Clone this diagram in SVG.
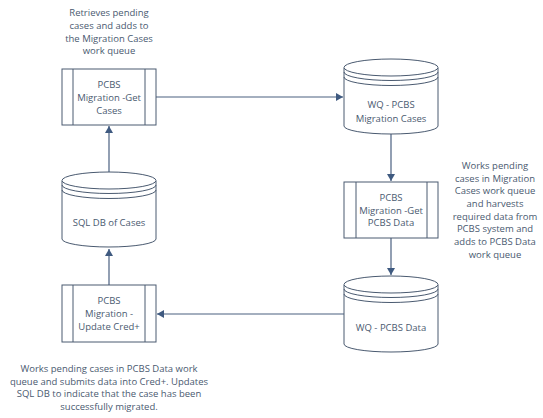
<svg xmlns="http://www.w3.org/2000/svg" width="543" height="418" viewBox="0 0 543 418">
<style>
.shape{fill:#fff;stroke:#4a5a70;stroke-width:1}
.line{fill:none;stroke:#4a6080;stroke-width:1.2}
text{font-family:"Open Sans","Liberation Sans",sans-serif;font-size:9.5px;fill:#4a5a70;text-anchor:middle}
</style>
<defs>
<marker id="arr" markerWidth="8" markerHeight="8" refX="7" refY="4" orient="auto" markerUnits="userSpaceOnUse">
<path d="M0,0 L7,4 L0,8 Z" fill="#3f5a80"/>
</marker>
</defs>
<rect width="543" height="418" fill="#fff"/>
<g id="connectors">
<path class="line" d="M156,97 H343" marker-end="url(#arr)"/>
<path class="line" d="M391,134 V181" marker-end="url(#arr)"/>
<path class="line" d="M391,238 V275" marker-end="url(#arr)"/>
<path class="line" d="M344,314 H157" marker-end="url(#arr)"/>
<path class="line" d="M109,285 V249" marker-end="url(#arr)"/>
<path class="line" d="M109,172 V126" marker-end="url(#arr)"/>
</g>
<g id="note-top">
<text x="109" y="16">Retrieves pending</text>
<text x="109" y="29">cases and adds to</text>
<text x="109" y="42">the Migration Cases</text>
<text x="109" y="54">work queue</text>
</g>
<g id="box-get-cases">
<rect class="shape" x="62" y="69" width="94" height="56"/>
<line class="shape" x1="73" y1="69" x2="73" y2="125"/>
<line class="shape" x1="145" y1="69" x2="145" y2="125"/>
<text x="109" y="88">PCBS</text>
<text x="109" y="101">Migration -Get</text>
<text x="109" y="114">Cases</text>
</g>
<g id="cyl-migration-cases">
<path class="shape" d="M344,68 V126 A47,8 0 0 0 438,126 V68"/>
<ellipse class="shape" cx="391" cy="67.5" rx="47" ry="8.5"/>
<path class="shape" fill="none" d="M344,72 A47,8.5 0 0 0 438,72" style="fill:none"/>
<path class="shape" d="M344,77 A47,8.5 0 0 0 438,77" style="fill:none"/>
<text x="391" y="108">WQ - PCBS</text>
<text x="391" y="122">Migration Cases</text>
</g>
<g id="box-get-data">
<rect class="shape" x="344" y="182" width="94" height="56"/>
<line class="shape" x1="356" y1="182" x2="356" y2="238"/>
<line class="shape" x1="427" y1="182" x2="427" y2="238"/>
<text x="391" y="201">PCBS</text>
<text x="391" y="214">Migration -Get</text>
<text x="391" y="226">PCBS Data</text>
</g>
<g id="note-right">
<text x="495" y="169">Works pending</text>
<text x="495" y="182">cases in Migration</text>
<text x="495" y="194">Cases work queue</text>
<text x="495" y="207">and harvests</text>
<text x="495" y="220">required data from</text>
<text x="495" y="232">PCBS system and</text>
<text x="495" y="245">adds to PCBS Data</text>
<text x="495" y="258">work queue</text>
</g>
<g id="cyl-pcbs-data">
<path class="shape" d="M344,285 V344 A47,8 0 0 0 438,344 V285"/>
<ellipse class="shape" cx="391" cy="284.5" rx="47" ry="8.5"/>
<path class="shape" d="M344,289 A47,8.5 0 0 0 438,289" style="fill:none"/>
<path class="shape" d="M344,294 A47,8.5 0 0 0 438,294" style="fill:none"/>
<text x="391" y="331">WQ - PCBS Data</text>
</g>
<g id="box-update-cred">
<rect class="shape" x="62" y="285" width="94" height="57"/>
<line class="shape" x1="73" y1="285" x2="73" y2="342"/>
<line class="shape" x1="145" y1="285" x2="145" y2="342"/>
<text x="109" y="304">PCBS</text>
<text x="109" y="317">Migration -</text>
<text x="109" y="330">Update Cred+</text>
</g>
<g id="cyl-sql">
<path class="shape" d="M62,181 V239 A47,8 0 0 0 156,239 V181"/>
<ellipse class="shape" cx="109" cy="180.5" rx="47" ry="8.5"/>
<path class="shape" d="M62,185 A47,8.5 0 0 0 156,185" style="fill:none"/>
<path class="shape" d="M62,190 A47,8.5 0 0 0 156,190" style="fill:none"/>
<text x="109" y="226">SQL DB of Cases</text>
</g>
<g id="note-bottom">
<text x="109" y="372">Works pending cases in PCBS Data work</text>
<text x="109" y="385">queue and submits data into Cred+. Updates</text>
<text x="109" y="397">SQL DB to indicate that the case has been</text>
<text x="109" y="410">successfully migrated.</text>
</g>
</svg>
